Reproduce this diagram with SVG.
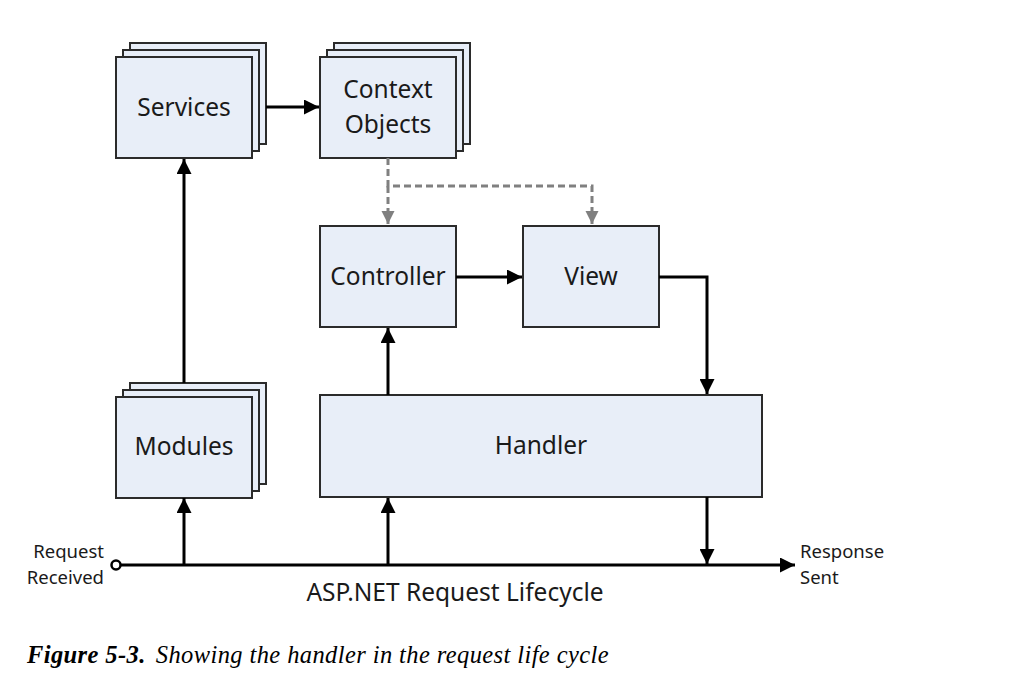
<svg xmlns="http://www.w3.org/2000/svg" width="1011" height="689" viewBox="0 0 1011 689">
<style>
.box{fill:#e8eef8;stroke:#2b2b2b;stroke-width:2}
.lbl{font-family:"Noto Sans","Open Sans",sans-serif;font-size:24.5px;fill:#1a1a1a;text-anchor:middle}
.sm{font-family:"Noto Sans","Open Sans",sans-serif;font-size:18.5px;fill:#1a1a1a}
.ln{fill:none;stroke:#000;stroke-width:3}
.dash{fill:none;stroke:#808080;stroke-width:3;stroke-dasharray:7,4}
.cap{font-family:"Liberation Serif",serif;font-size:24.5px;font-style:italic;fill:#000;letter-spacing:0.4px}
</style>
<defs>
<marker id="ah" viewBox="0 0 10 10" refX="10" refY="5" markerWidth="5.5" markerHeight="5" orient="auto" markerUnits="strokeWidth"><path d="M0,0 L10,5 L0,10 z" fill="#000"/></marker>
<marker id="ag" viewBox="0 0 10 10" refX="10" refY="5" markerWidth="4.5" markerHeight="4.5" orient="auto" markerUnits="strokeWidth"><path d="M0,0 L10,5 L0,10 z" fill="#808080"/></marker>
</defs>
<g id="services">
<rect class="box" x="130" y="43" width="136" height="101"/>
<rect class="box" x="123" y="50" width="136" height="101"/>
<rect class="box" x="116" y="57" width="136" height="101"/>
<text class="lbl" x="184" y="116">Services</text>
</g>
<g id="context-objects">
<rect class="box" x="334" y="43" width="136" height="101"/>
<rect class="box" x="327" y="50" width="136" height="101"/>
<rect class="box" x="320" y="57" width="136" height="101"/>
<text class="lbl" x="388" y="98">Context</text>
<text class="lbl" x="388" y="133">Objects</text>
</g>
<g id="controller">
<rect class="box" x="320" y="226" width="136" height="101"/>
<text class="lbl" x="388" y="285">Controller</text>
</g>
<g id="view">
<rect class="box" x="523" y="226" width="136" height="101"/>
<text class="lbl" x="591" y="285">View</text>
</g>
<g id="modules">
<rect class="box" x="130" y="383" width="136" height="101"/>
<rect class="box" x="123" y="390" width="136" height="101"/>
<rect class="box" x="116" y="397" width="136" height="101"/>
<text class="lbl" x="184" y="455">Modules</text>
</g>
<g id="handler">
<rect class="box" x="320" y="395" width="442" height="102"/>
<text class="lbl" x="541" y="454">Handler</text>
</g>
<g id="connectors">
<line class="ln" x1="266" y1="107" x2="319" y2="107" marker-end="url(#ah)"/>
<line class="ln" x1="184" y1="383" x2="184" y2="159" marker-end="url(#ah)"/>
<polyline class="dash" points="388,158 388,186 592,186 592,224" marker-end="url(#ag)"/>
<line class="dash" x1="388" y1="186" x2="388" y2="224" marker-end="url(#ag)"/>
<line class="ln" x1="456" y1="277" x2="522" y2="277" marker-end="url(#ah)"/>
<polyline class="ln" points="659,277 707,277 707,394" marker-end="url(#ah)"/>
<line class="ln" x1="388" y1="395" x2="388" y2="328" marker-end="url(#ah)"/>
<line class="ln" x1="121" y1="565" x2="795" y2="565" marker-end="url(#ah)"/>
<circle cx="116" cy="565" r="4.5" fill="#fff" stroke="#000" stroke-width="2.5"/>
<line class="ln" x1="184" y1="565" x2="184" y2="498" marker-end="url(#ah)"/>
<line class="ln" x1="388" y1="565" x2="388" y2="498" marker-end="url(#ah)"/>
<line class="ln" x1="707" y1="497" x2="707" y2="564" marker-end="url(#ah)"/>
</g>
<g id="labels">
<text class="sm" x="104" y="558" text-anchor="end">Request</text>
<text class="sm" x="104" y="584" text-anchor="end">Received</text>
<text class="sm" x="800" y="558">Response</text>
<text class="sm" x="800" y="584">Sent</text>
<text class="lbl" x="455" y="601">ASP.NET Request Lifecycle</text>
<text class="cap" x="27" y="663"><tspan font-weight="bold">Figure 5-3.</tspan><tspan dx="10">Showing the handler in the request life cycle</tspan></text>
</g>
</svg>
